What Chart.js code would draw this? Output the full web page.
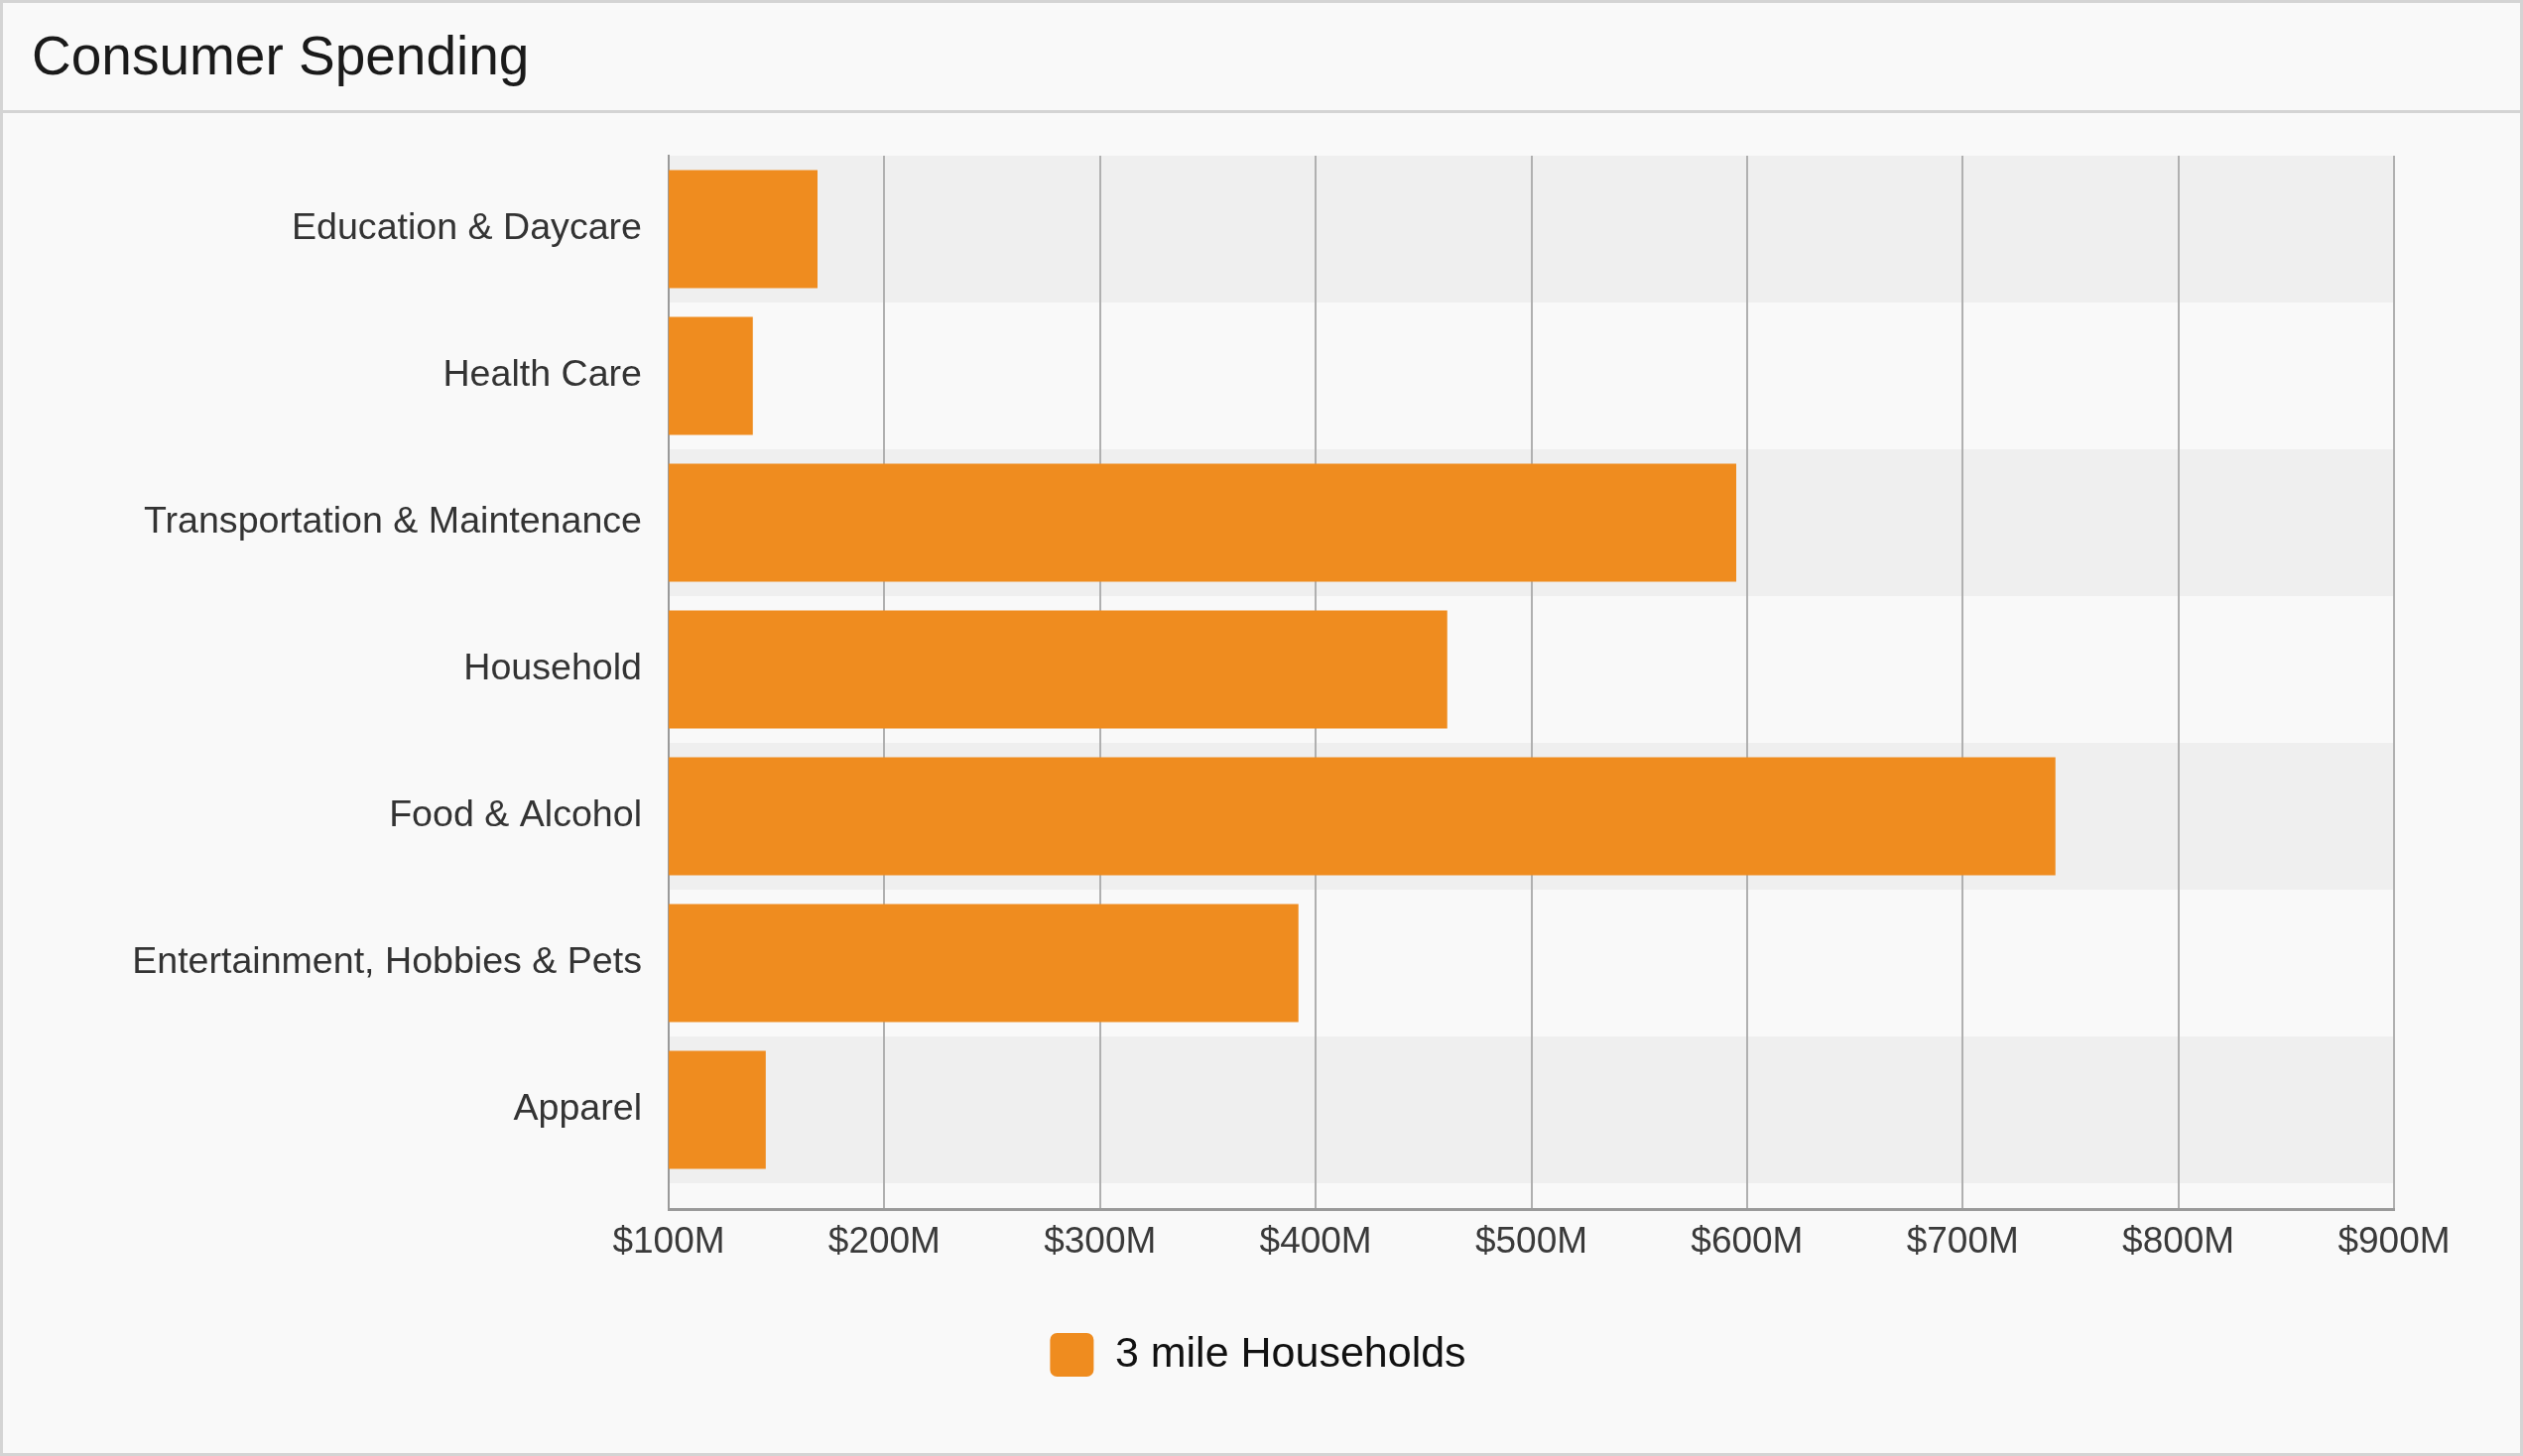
<!DOCTYPE html>
<html>
<head>
<meta charset="utf-8">
<title>Consumer Spending</title>
<script src="https://cdn.jsdelivr.net/npm/chart.js@4/dist/chart.umd.min.js"></script>
<style>
  html, body { margin: 0; padding: 0; background: #f9f9f9; }
  body { font-family: "Liberation Sans", Arial, Helvetica, sans-serif; }
  #frame {
    position: absolute; left: 0; top: 0;
    width: 2543px; height: 1468px;
    box-sizing: border-box;
    border: 3px solid #d4d4d4;
  }
  #header {
    position: absolute; left: 0; top: 0; right: 0;
    height: 108px;
    border-bottom: 3px solid #d4d4d4;
  }
  #header h1 {
    position: absolute; left: 29px; top: 26px;
    margin: 0;
    font-size: 55px; line-height: 1;
    font-weight: normal;
    color: #1a1a1a;
  }
  #chart { position: absolute; left: 0; top: 0; }
</style>
</head>
<body>
<div id="frame">
  <div id="header"><h1>Consumer Spending</h1></div>
</div>
<canvas id="chart" width="2543" height="1468"></canvas>
<script>
// Spending categories, top to bottom
const categories = [
  'Education & Daycare',
  'Health Care',
  'Transportation & Maintenance',
  'Household',
  'Food & Alcohol',
  'Entertainment, Hobbies & Pets',
  'Apparel'
];

// Annual spending within 3 miles, in millions of dollars
const spending3Mile = [169, 139, 595, 461, 743, 392, 145];

// Value axis ticks, in millions of dollars
const xTickValues = [100, 200, 300, 400, 500, 600, 700, 800, 900];

const seriesName = '3 mile Households';
const FONT = '"Liberation Sans", Arial, Helvetica, sans-serif';

// Alternating shaded rows behind the bars
const rowBands = {
  id: 'rowBands',
  beforeDraw(chart) {
    const { ctx, chartArea, scales } = chart;
    const y = scales.y;
    ctx.save();
    ctx.fillStyle = '#efefef';
    categories.forEach((c, i) => {
      if (i % 2 !== 0) return;
      const top = y.getPixelForValue(i - 0.5);
      const bottom = y.getPixelForValue(i + 0.5);
      ctx.fillRect(chartArea.left, top, chartArea.right - chartArea.left, bottom - top);
    });
    ctx.restore();
  }
};

new Chart(document.getElementById('chart'), {
  type: 'bar',
  data: {
    datasets: [{
      label: seriesName,
      data: categories.map((c, i) => ({ x: spending3Mile[i], y: i })),
      backgroundColor: '#ef8c1f',
      borderWidth: 0,
      categoryPercentage: 1,
      barPercentage: 0.805
    }]
  },
  options: {
    indexAxis: 'y',
    responsive: false,
    animation: false,
    layout: { padding: { top: 157, left: 123, right: 130, bottom: 70 } },
    plugins: {
      tooltip: { enabled: false },
      legend: {
        position: 'bottom',
        labels: {
          font: { family: FONT, size: 43 },
          color: '#111',
          boxWidth: 44,
          boxHeight: 44,
          useBorderRadius: true,
          borderRadius: 7,
          padding: 10
        }
      }
    },
    scales: {
      x: {
        type: 'linear',
        position: 'bottom',
        min: xTickValues[0],
        max: xTickValues[xTickValues.length - 1],
        afterBuildTicks: s => { s.ticks = xTickValues.map(v => ({ value: v })); },
        afterFit: s => { s.height = 115; },
        ticks: {
          callback: v => '$' + v + 'M',
          font: { family: FONT, size: 37 },
          color: '#3a3a3a',
          padding: 12,
          maxRotation: 0,
          autoSkip: false
        },
        grid: { color: '#b0b0b0', lineWidth: 2, drawTicks: false },
        border: { color: '#9a9a9a', width: 3 }
      },
      y: {
        type: 'linear',
        reverse: true,
        offset: false,
        min: -0.5,
        // a little room below the last row before the axis line
        max: categories.length - 0.5 + 0.176,
        afterBuildTicks: s => { s.ticks = categories.map((c, i) => ({ value: i })); },
        afterFit: s => { s.width = 551; },
        ticks: {
          callback: v => categories[v],
          font: { family: FONT, size: 37.6 },
          color: '#333',
          padding: 27,
          autoSkip: false
        },
        grid: { display: false, drawTicks: false, offset: false },
        border: { color: '#9a9a9a', width: 2 }
      }
    }
  },
  plugins: [rowBands]
});
</script>
</body>
</html>
